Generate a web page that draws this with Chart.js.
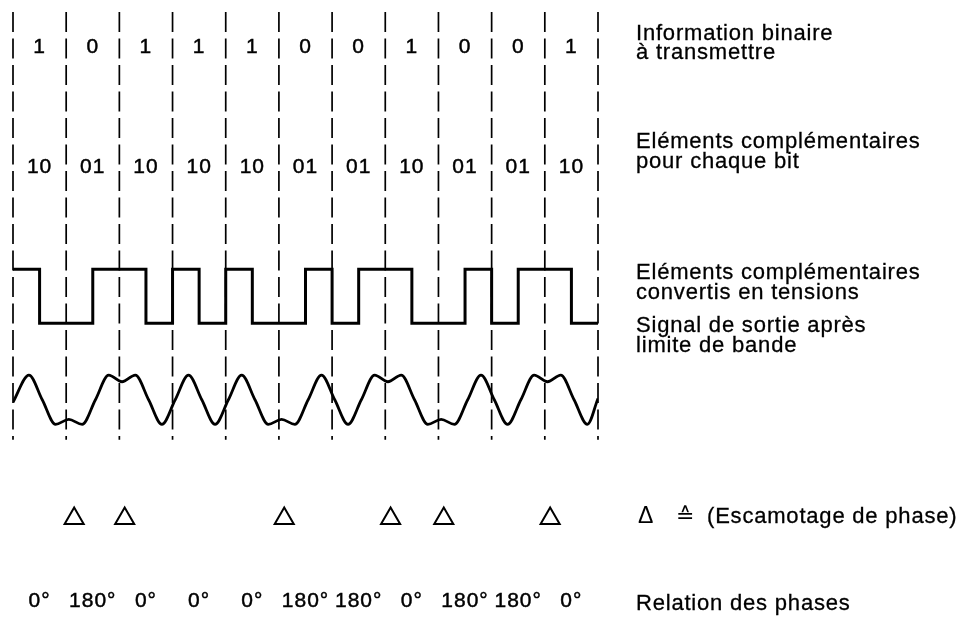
<!DOCTYPE html>
<html>
<head>
<meta charset="utf-8">
<script src="https://cdn.jsdelivr.net/npm/chart.js@4/dist/chart.umd.min.js"></script>
<style>
  html, body { margin: 0; padding: 0; background: #fff; }
  #wrap { position: relative; width: 976px; height: 629px; }
</style>
</head>
<body>
<div id="wrap"><canvas id="c"></canvas></div>
<script>
// ---------------- data ----------------
const bits = [1, 0, 1, 1, 1, 0, 0, 1, 0, 0, 1];
const elementPairs = ['10', '01', '10', '10', '10', '01', '01', '10', '01', '01', '10'];
const halfBitLevels = [1, 0, 0, 1, 1, 0, 1, 0, 1, 0, 0, 1, 0, 1, 1, 0, 0, 1, 0, 1, 1, 0];
const bitBoundaries = [0, 1, 2, 3, 4, 5, 6, 7, 8, 9, 10, 11];
const sineX = [0, 0.30, 0.55, 0.80, 1.05, 1.30, 1.55, 1.80, 2.05, 2.30, 2.55, 2.80, 3.05, 3.30, 3.55,
  3.80, 4.05, 4.30, 4.55, 4.80, 5.05, 5.30, 5.55, 5.80, 6.05, 6.30, 6.55, 6.80, 7.05, 7.30, 7.55,
  7.80, 8.05, 8.30, 8.55, 8.80, 9.05, 9.30, 9.55, 9.80, 10.05, 10.30, 10.55, 10.80, 11];
const sineY = [-0.1, 1, 0, -1, -0.8, -1, 0, 1, 0.73, 1, 0, -1, 0, 1, 0,
  -1, 0, 1, 0, -1, -0.8, -1, 0, 1, 0, -1, 0, 1, 0.73, 1, 0,
  -1, -0.8, -1, 0, 1, 0, -1, 0, 1, 0.73, 1, 0, -1, 0.05];
const phaseSkipX = [1.15, 2.1, 5.1, 7.1, 8.1, 10.1];
const phaseLabels = ['0°', '180°', '0°', '0°', '0°', '180°', '180°', '0°', '180°', '180°', '0°'];
const rowTitles = [
  ['Information binaire', 'à transmettre'],
  ['Eléments complémentaires', 'pour chaque bit'],
  ['Eléments complémentaires', 'convertis en tensions'],
  ['Signal de sortie après', 'limite de bande']
];
const legendSymbols = ['Δ', '≙'];
const legendText = '(Escamotage de phase)';
const phaseTitle = 'Relation des phases';

// ---------------- layout ----------------
const PAD = { left: 13, right: 378, top: 13, bottom: 4 };
const AREA_TOP = 13, AREA_BOTTOM = 625;
const SQ_LOW_PX = 328, SQ_HIGH_PX = 273;
const PPU = SQ_LOW_PX - SQ_HIGH_PX;
const Y_MIN = -(AREA_BOTTOM - SQ_LOW_PX) / PPU;
const Y_MAX = Y_MIN + (AREA_BOTTOM - AREA_TOP) / PPU;
const toRow = px => (SQ_LOW_PX - px) / PPU;
const ROW = {
  bits: toRow(48), pairs: toRow(169), dashTop: toRow(12), dashBottom: toRow(446),
  tri: toRow(526), phase: toRow(610)
};
const SINE_MID = toRow(405.5), SINE_AMP = 25 / PPU;
const TITLE_X = 636;
const TITLE_BASELINES = [[40, 59], [148, 168], [279, 299], [332, 352]];
const LEGEND_BASELINE = 523, RELATION_BASELINE = 610;
const FONT = '22px "Liberation Sans", Arial, "DejaVu Sans", sans-serif';
const DIGIT_FONT = '21px "Liberation Sans", Arial, "DejaVu Sans", sans-serif';
const DELTA_FONT = '23px "Liberation Sans", Arial, "DejaVu Sans", sans-serif';

// ---------------- datasets built from the arrays ----------------
const squareData = halfBitLevels.map((v, i) => ({ x: i * 0.5, y: v }));
squareData.push({ x: 11, y: halfBitLevels[halfBitLevels.length - 1] });
const sineData = sineX.map((x, i) => ({ x, y: SINE_MID + SINE_AMP * sineY[i] }));
const triData = phaseSkipX.map(x => ({ x, y: ROW.tri }));

function heavyText(ctx, s, x, y) {
  ctx.fillText(s, x, y);
  ctx.strokeText(s, x, y);
}

const overlay = {
  id: 'overlay',
  beforeDatasetsDraw(chart) {
    const { ctx, scales: { x, y } } = chart;
    ctx.save();
    ctx.strokeStyle = '#000';
    ctx.lineWidth = 1.7;
    ctx.setLineDash([20, 6.5]);
    const yt = y.getPixelForValue(ROW.dashTop), yb = y.getPixelForValue(ROW.dashBottom);
    bitBoundaries.forEach(b => {
      const px = x.getPixelForValue(b);
      ctx.beginPath(); ctx.moveTo(px, yt); ctx.lineTo(px, yb); ctx.stroke();
    });
    ctx.restore();
  },
  afterDatasetsDraw(chart) {
    const { ctx, scales: { x, y } } = chart;
    ctx.save();
    ctx.fillStyle = '#000';
    ctx.strokeStyle = '#000';
    ctx.lineWidth = 0.45;
    ctx.font = DIGIT_FONT;
    ctx.textBaseline = 'middle';
    ctx.textAlign = 'center';
    ctx.letterSpacing = '1px';
    bits.forEach((b, i) => heavyText(ctx, String(b), x.getPixelForValue(i + 0.5), y.getPixelForValue(ROW.bits)));
    elementPairs.forEach((p, i) => heavyText(ctx, p, x.getPixelForValue(i + 0.5), y.getPixelForValue(ROW.pairs)));
    phaseLabels.forEach((p, i) => heavyText(ctx, p, x.getPixelForValue(i + 0.5), y.getPixelForValue(ROW.phase)));
    // right-hand titles
    ctx.font = FONT;
    ctx.textBaseline = 'alphabetic';
    ctx.textAlign = 'left';
    ctx.letterSpacing = '0.8px';
    ctx.lineWidth = 0.3;
    rowTitles.forEach((lines, r) => lines.forEach((t, k) => heavyText(ctx, t, TITLE_X, TITLE_BASELINES[r][k])));
    heavyText(ctx, legendText, 707, LEGEND_BASELINE);
    heavyText(ctx, phaseTitle, TITLE_X, RELATION_BASELINE);
    ctx.font = DELTA_FONT;
    ctx.letterSpacing = '0px';
    ctx.fillText(legendSymbols[0], TITLE_X + 2, LEGEND_BASELINE);
    ctx.font = FONT;
    ctx.fillText(legendSymbols[1], TITLE_X + 40, LEGEND_BASELINE);
    ctx.restore();
  }
};

new Chart(document.getElementById('c'), {
  type: 'line',
  data: {
    datasets: [
      { label: 'tensions', data: squareData, stepped: 'before', borderColor: '#000', borderWidth: 3,
        pointRadius: 0, fill: false },
      { label: 'signal', data: sineData, cubicInterpolationMode: 'monotone', borderColor: '#000',
        borderWidth: 2.8, pointRadius: 0, fill: false },
      { type: 'scatter', label: 'escamotage', data: triData, pointStyle: 'triangle', pointRadius: 11,
        borderWidth: 2, borderColor: '#000', backgroundColor: '#fff', showLine: false }
    ]
  },
  options: {
    responsive: true,
    maintainAspectRatio: false,
    animation: false,
    events: [],
    layout: { padding: PAD },
    plugins: { legend: { display: false }, tooltip: { enabled: false } },
    scales: {
      x: { type: 'linear', min: 0, max: 11, display: false },
      y: { type: 'linear', min: Y_MIN, max: Y_MAX, display: false }
    }
  },
  plugins: [overlay]
});
</script>
</body>
</html>
